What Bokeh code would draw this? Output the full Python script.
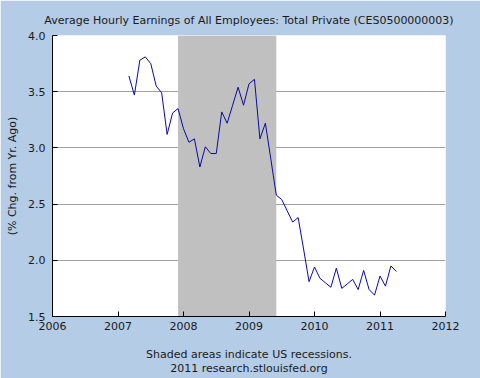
import pandas as pd
from bokeh.plotting import figure
from bokeh.models import (BoxAnnotation, FixedTicker, PrintfTickFormatter,
                          ColumnDataSource, Range1d)
from bokeh.embed import file_html
from bokeh.resources import INLINE

# ---- data ----
start_month = "2007-03"
pct_change = [
    3.64, 3.47, 3.78, 3.81, 3.75, 3.55, 3.49, 3.12, 3.31, 3.35,            # 2007 Mar-Dec
    3.17, 3.05, 3.08, 2.83, 3.01, 2.95, 2.95, 3.32, 3.22, 3.38, 3.54, 3.38,  # 2008
    3.57, 3.61, 3.08, 3.22, 2.90, 2.58, 2.54, 2.44, 2.34, 2.38, 2.10, 1.81,  # 2009
    1.94, 1.84, 1.80, 1.76, 1.93, 1.75, 1.79, 1.83, 1.74, 1.91, 1.74, 1.69,  # 2010
    1.86, 1.77, 1.95, 1.90,                                                  # 2011 Jan-Apr
]
recession_start = [2007 + 11 / 12]   # Dec 2007
recession_end = [2009 + 5 / 12]      # Jun 2009
x_ticks = [2006, 2007, 2008, 2009, 2010, 2011, 2012]
y_ticks = [1.5, 2.0, 2.5, 3.0, 3.5, 4.0]
title_text = "Average Hourly Earnings of All Employees: Total Private (CES0500000003)"
footer_text = "Shaded areas indicate US recessions.\n2011 research.stlouisfed.org"

dates = pd.date_range(start_month, periods=len(pct_change), freq="MS")
xdec = [d.year + (d.month - 1) / 12 for d in dates]
src = ColumnDataSource(dict(x=xdec, y=pct_change))

BG = "#b4cce6"
FONT = "DejaVu Sans"
TXT = "#1a1a1a"

p = figure(width=480, height=378, output_backend="svg", toolbar_location=None,
           x_range=Range1d(2006, 2012), y_range=Range1d(1.5, 4.0),
           min_border_left=52, min_border_right=35, min_border_top=35,
           min_border_bottom=61)
p.background_fill_color = "white"
p.border_fill_color = BG
p.outline_line_color = None

p.title.text = title_text
p.title.align = "center"
p.title.vertical_align = "top"
p.title.text_font = FONT
p.title.text_font_size = "11px"
p.title.text_font_style = "normal"
p.title.text_color = TXT
p.title.standoff = 14
try:
    p.title.padding = 0
except Exception:
    pass
p.title.text_line_height = 0.5

# recession shading
for s, e in zip(recession_start, recession_end):
    p.add_layout(BoxAnnotation(left=s, right=e, fill_color="#c0c0c0", fill_alpha=1.0,
                               line_color=None, level="underlay"))

p.line("x", "y", source=src, line_color="#0b0b9e", line_width=1)

# axes
p.xaxis.ticker = FixedTicker(ticks=x_ticks)
p.yaxis.ticker = FixedTicker(ticks=y_ticks)
p.yaxis.formatter = PrintfTickFormatter(format="%.1f")
for ax in (p.xaxis[0], p.yaxis[0]):
    ax.axis_line_color = "black"
    ax.axis_line_width = 1
    ax.major_tick_in = 5
    ax.major_tick_out = 0
    ax.major_tick_line_color = "black"
    ax.minor_tick_line_color = None
    ax.major_label_text_font = FONT
    ax.major_label_text_font_size = "11px"
    ax.major_label_text_color = TXT
    ax.axis_label_text_font = FONT
    ax.axis_label_text_font_size = "11px"
    ax.axis_label_text_font_style = "normal"
    ax.axis_label_text_color = TXT
p.xaxis.major_label_standoff = 5
p.yaxis.major_label_standoff = 7
p.yaxis.axis_label = "(% Chg. from Yr. Ago)"
p.yaxis.axis_label_standoff = 6
p.xaxis.axis_label = footer_text
p.xaxis.axis_label_text_line_height = 1.15
p.xaxis.axis_label_standoff = 15

p.xgrid.grid_line_color = None
p.ygrid.grid_line_color = "#a0a0a0"
p.ygrid.grid_line_width = 1

open("out.html", "w").write(file_html(p, INLINE))
